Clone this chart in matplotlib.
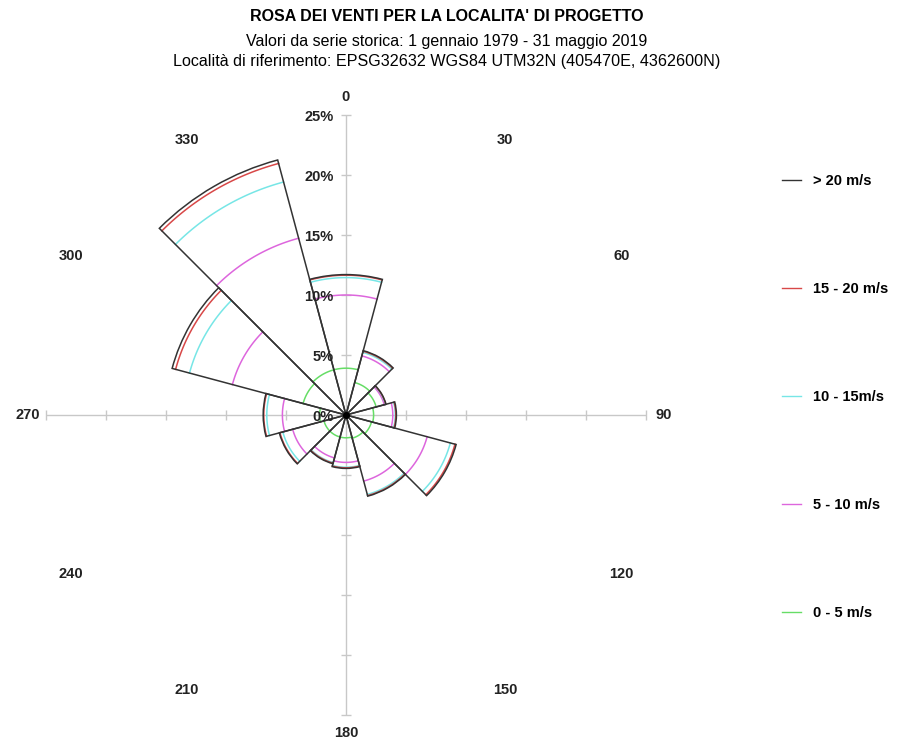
import numpy as np
import matplotlib.pyplot as plt
from matplotlib.lines import Line2D

plt.rcParams['font.family'] = ['Liberation Sans', 'DejaVu Sans']

# settori di provenienza (gradi) e frequenze percentuali per classe di velocita'
directions = [0, 30, 60, 90, 120, 150, 180, 210, 240, 270, 300, 330]
freq_0_5 = [3.9, 2.8, 2.6, 2.3, 2.2, 2.0, 1.9, 1.9, 1.9, 2.2, 3.7, 3.9]
freq_5_10 = [6.1, 2.3, 0.7, 1.6, 4.8, 3.7, 2.05, 1.8, 2.7, 3.1, 6.1, 11.35]
freq_10_15 = [1.45, 0.3, 0.1, 0.2, 2.0, 1.15, 0.4, 0.4, 0.85, 1.3, 3.7, 4.85]
freq_15_20 = [0.2, 0.1, 0.03, 0.05, 0.4, 0.1, 0.05, 0.05, 0.25, 0.25, 1.2, 1.6]
freq_over_20 = [0.05, 0.05, 0.02, 0.05, 0.1, 0.05, 0.05, 0.05, 0.05, 0.05, 0.3, 0.3]

class_labels = ['0 - 5 m/s', '5 - 10 m/s', '10 - 15m/s', '15 - 20 m/s', '> 20 m/s']
class_colors = ['#66dd66', '#dd66dd', '#77e6e6', '#d84848', '#333333']
radial_ticks = [0, 5, 10, 15, 20, 25]

bands = np.array([freq_0_5, freq_5_10, freq_10_15, freq_15_20, freq_over_20])
cum = np.cumsum(bands, axis=0)
theta = np.radians(directions)
width = np.radians(30)

fig = plt.figure(figsize=(8.99, 7.40), dpi=100)
ax = fig.add_axes([46 / 899, 25 / 740, 600 / 899, 600 / 740], projection='polar')
ax.set_theta_zero_location('N')
ax.set_theta_direction(-1)
ax.set_ylim(0, 25)
ax.grid(False)
ax.set_xticks([])
ax.set_yticks([])
ax.spines['polar'].set_visible(False)

# assi a croce con tacche ogni 5%
axis_col = '#c8c8c8'
ax.plot([0, 0, np.pi], [25, 0, 25], color=axis_col, lw=1.0, zorder=1)
ax.plot([np.pi / 2, np.pi / 2, 3 * np.pi / 2], [25, 0, 25], color=axis_col, lw=1.0, zorder=1)
r_ticks = np.array(radial_ticks[1:])
for a in [0, np.pi]:
    ax.plot(np.full(len(r_ticks), a), r_ticks, ls='none', marker='_', ms=7,
            mew=1.0, color=axis_col, clip_on=False, zorder=1)
for a in [np.pi / 2, 3 * np.pi / 2]:
    ax.plot(np.full(len(r_ticks), a), r_ticks, ls='none', marker='|', ms=7,
            mew=1.0, color=axis_col, clip_on=False, zorder=1)

# archi delle classi cumulate dentro ogni settore
for k in range(4):
    for i, t in enumerate(theta):
        tt = np.linspace(t - width / 2, t + width / 2, 40)
        ax.plot(tt, np.full_like(tt, cum[k, i]), color=class_colors[k], lw=1.1, zorder=2)

# contorno dei settori (totale)
ax.bar(theta, cum[-1], width=width, bottom=0, fill=False,
       edgecolor=class_colors[-1], linewidth=1.1, zorder=3)
ax.plot([0], [0], marker='o', ms=4, color='black', zorder=4)

# etichette percentuali lungo l'asse verticale
for r in radial_ticks:
    ax.annotate(f'{r}%', xy=(0, r), xytext=(-9, -1.5), textcoords='offset points',
                ha='right', va='center', fontsize=10.5, fontweight='bold',
                color='#222222', zorder=5)

# etichette delle direzioni
for d in directions:
    ax.text(np.radians(d), 26.5, str(d), ha='center', va='center',
            fontsize=10.5, fontweight='bold', color='#222222')

fig.text(0.497, 0.978, "ROSA DEI VENTI PER LA LOCALITA' DI PROGETTO",
         ha='center', va='center', fontsize=11.5, fontweight='bold')
fig.text(0.497, 0.944, 'Valori da serie storica: 1 gennaio 1979 - 31 maggio 2019',
         ha='center', va='center', fontsize=11.5)
fig.text(0.497, 0.917, 'Località di riferimento: EPSG32632 WGS84 UTM32N (405470E, 4362600N)',
         ha='center', va='center', fontsize=11.6)

handles = [Line2D([0], [0], color=c, lw=1.0) for c in class_colors[::-1]]
fig.legend(handles, class_labels[::-1], loc='upper left',
           bbox_to_anchor=(782 / 899, 1 - 174 / 740), frameon=False,
           prop={'weight': 'bold', 'size': 10.5}, labelspacing=6.45,
           handlelength=1.3, handletextpad=0.8, borderpad=0, borderaxespad=0)

fig.savefig('out.png', dpi=100)
